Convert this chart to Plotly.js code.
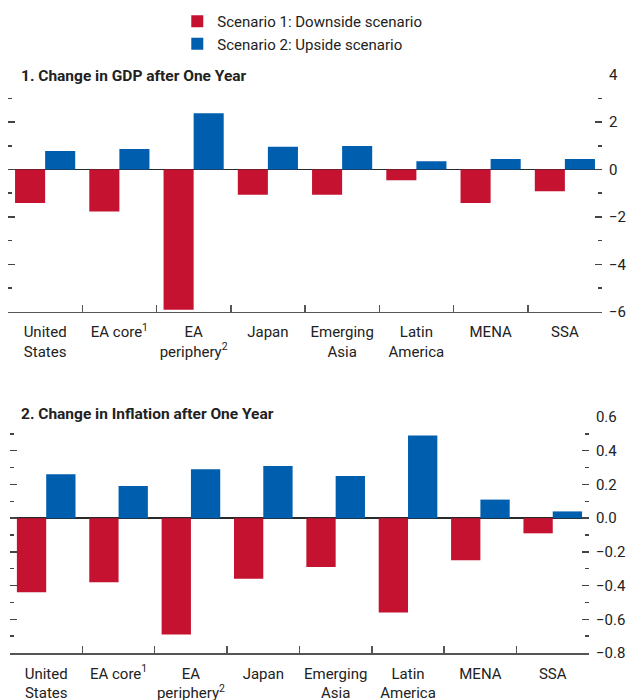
<!DOCTYPE html>
<html>
<head>
<meta charset="utf-8">
<script src="https://cdn.plot.ly/plotly-3.0.1.min.js"></script>
<style>
  html, body { margin: 0; padding: 0; background: #fff; }
  #chart { width: 629px; height: 700px; }
</style>
</head>
<body>
<div id="chart"></div>
<script>
// Regions on the x axis of both panels.
const regions = [
  "United<br>States", "EA core<sup>1</sup>", "EA<br>periphery<sup>2</sup>", "Japan",
  "Emerging<br>Asia", "Latin<br>America", "MENA", "SSA"
];

// Panel 1: change in GDP after one year (percent).
const gdpDownside = [-1.41, -1.77, -5.92, -1.07, -1.07, -0.45, -1.41, -0.92];
const gdpUpside = [0.78, 0.86, 2.37, 0.96, 0.99, 0.35, 0.44, 0.44];

// Panel 2: change in inflation after one year (percentage points).
const inflDownside = [-0.44, -0.38, -0.69, -0.36, -0.29, -0.56, -0.25, -0.09];
const inflUpside = [0.26, 0.19, 0.29, 0.31, 0.25, 0.49, 0.11, 0.04];

const seriesNames = ["Scenario 1: Downside scenario", "Scenario 2: Upside scenario"];

const RED = "#C41230";
const BLUE = "#005EAE";
const FONT = "Roboto, 'Liberation Sans', sans-serif";

const data = [
  { type: "bar", x: regions, y: gdpDownside, name: seriesNames[0], marker: { color: RED },
    xaxis: "x", yaxis: "y", hoverinfo: "y" },
  { type: "bar", x: regions, y: gdpUpside, name: seriesNames[1], marker: { color: BLUE },
    xaxis: "x", yaxis: "y", hoverinfo: "y" },
  { type: "bar", x: regions, y: inflDownside, name: seriesNames[0], marker: { color: RED },
    xaxis: "x2", yaxis: "y2", showlegend: false, hoverinfo: "y" },
  { type: "bar", x: regions, y: inflUpside, name: seriesNames[1], marker: { color: BLUE },
    xaxis: "x2", yaxis: "y2", showlegend: false, hoverinfo: "y" },
];

// Shared styling for the category axes and the value axes.
const catAxis = (domain, anchor) => ({
  type: "category",
  domain,
  anchor,
  range: [-0.5, 7.5],
  tickson: "boundaries",
  ticks: "inside",
  ticklen: 7,
  tickwidth: 1.5,
  tickcolor: "#555",
  tickangle: 0,
  showline: true,
  linecolor: "#555",
  linewidth: 1.5,
  showgrid: false,
  zeroline: false,
  tickfont: { size: 15, color: "#222" },
  ticklabelstandoff: 6,
});

const valAxis = (domain, anchor, range, dtick, minorDtick, fmt) => ({
  domain,
  anchor,
  side: "right",
  range,
  dtick,
  tickformat: fmt,
  ticks: "inside",
  ticklen: 7,
  tickwidth: 1.5,
  tickcolor: "#444",
  mirror: "ticks",
  showline: false,
  showgrid: false,
  zeroline: true,
  zerolinecolor: "#2a2a2a",
  zerolinewidth: 1.5,
  minor: { dtick: minorDtick, ticks: "inside", ticklen: 4, tickwidth: 1.5, tickcolor: "#444", showgrid: false },
  tickfont: { size: 15, color: "#222" },
  ticklabelstandoff: 6,
});

const layout = {
  width: 629,
  height: 700,
  margin: { l: 8, r: 27, t: 0, b: 0 },
  paper_bgcolor: "#fff",
  plot_bgcolor: "#fff",
  font: { family: FONT, color: "#222" },
  barmode: "group",
  bargap: 0.19,
  bargroupgap: 0,
  showlegend: true,
  legend: {
    x: 0.285, xanchor: "left",
    y: 0.993, yanchor: "top",
    font: { size: 15, color: "#222" },
    bgcolor: "rgba(0,0,0,0)",
  },
  xaxis: catAxis([0, 1], "y"),
  yaxis: valAxis([0.5547, 0.8933], "x", [-6, 4], 2, 1, "d"),
  xaxis2: catAxis([0.0034, 0.978], "y2"),
  yaxis2: valAxis([0.0671, 0.4043], "x2", [-0.8, 0.6], 0.2, 0.1, ".1f"),
  annotations: [
    { text: "<b>1. Change in GDP after One Year</b>", xref: "paper", yref: "paper",
      x: 0.0185, y: 0.8914, xanchor: "left", yanchor: "middle", showarrow: false,
      font: { size: 15.5, color: "#222" } },
    { text: "<b>2. Change in Inflation after One Year</b>", xref: "paper", yref: "paper",
      x: 0.0185, y: 0.4086, xanchor: "left", yanchor: "middle", showarrow: false,
      font: { size: 15.5, color: "#222" } },
  ],
};

Plotly.newPlot("chart", data, layout, { displayModeBar: false, staticPlot: true });
</script>
</body>
</html>
